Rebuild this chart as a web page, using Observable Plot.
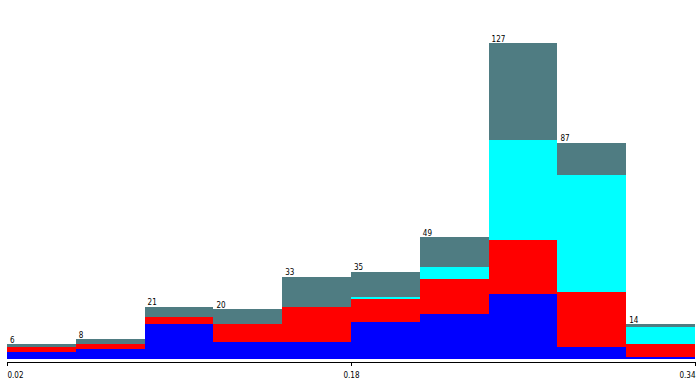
<!DOCTYPE html>
<html>
<head>
<meta charset="utf-8">
<script src="https://cdn.jsdelivr.net/npm/d3@7"></script>
<script src="https://cdn.jsdelivr.net/npm/@observablehq/plot@0.6"></script>
<style>
  html, body { margin: 0; padding: 0; background: #fff; }
  #chart svg { display: block; }
</style>
</head>
<body>
<div id="chart"></div>
<script>
// Bin edges of the histogram
const binEdges = [0.02, 0.052, 0.084, 0.116, 0.148, 0.18, 0.212, 0.244, 0.276, 0.308, 0.34];
// Series (bottom to top)
const seriesNames = ["blue", "red", "cyan", "slate"];
const seriesColors = ["#0000ff", "#ff0000", "#00ffff", "#4f7c82"];
const blueValues  = [3, 4, 14, 7, 7, 15, 18, 26, 5, 1];
const redValues   = [2, 2, 3, 7, 14, 9, 14, 22, 22, 5];
const cyanValues  = [0, 0, 0, 0, 0, 1, 5, 40, 47, 7];
const slateValues = [1, 2, 4, 6, 12, 10, 12, 39, 13, 1];
// Labels above each bin
const totalLabels = [6, 8, 21, 20, 33, 35, 49, 127, 87, 14];
// Axis tick labels
const tickValues = [0.02, 0.18, 0.34];

const seriesValues = [blueValues, redValues, cyanValues, slateValues];
const rows = [];
seriesNames.forEach((s, si) => {
  seriesValues[si].forEach((v, i) => {
    rows.push({x1: binEdges[i], x2: binEdges[i + 1], series: s, value: v});
  });
});
const totals = totalLabels.map((t, i) => ({x1: binEdges[i], total: t}));

const font = "'Liberation Sans Narrow', 'Arial Narrow', 'DejaVu Sans Condensed', sans-serif";
const fmt = d => d.toFixed(2);

const chart = Plot.plot({
  width: 698,
  height: 380,
  marginLeft: 7,
  marginRight: 3,
  marginTop: 46.3,
  marginBottom: 18,
  style: {fontFamily: font, fontSize: "8px", background: "#fff"},
  x: {domain: [0.02, 0.34], label: null},
  y: {domain: [0, 127], axis: null, label: null},
  color: {domain: seriesNames, range: seriesColors},
  marks: [
    Plot.rectY(rows, {x1: "x1", x2: "x2", y: "value", fill: "series", dy: -3, shapeRendering: "crispEdges"}),
    Plot.text(totals, {x: "x1", y: "total", text: d => String(d.total), textAnchor: "start", lineAnchor: "bottom", dx: 2.5, dy: -5, fontSize: 8, fill: "#000"}),
    Plot.ruleY([0], {stroke: "#000"}),
    Plot.axisX([tickValues[0]], {tickSize: 4, tickPadding: 6, tickFormat: fmt, textAnchor: "start", fontSize: 8, label: null}),
    Plot.axisX([tickValues[1]], {tickSize: 4, tickPadding: 6, tickFormat: fmt, textAnchor: "middle", fontSize: 8, label: null}),
    Plot.axisX([tickValues[2]], {tickSize: 4, tickPadding: 6, tickFormat: fmt, textAnchor: "end", fontSize: 8, label: null})
  ]
});
document.getElementById("chart").appendChild(chart);
</script>
</body>
</html>
